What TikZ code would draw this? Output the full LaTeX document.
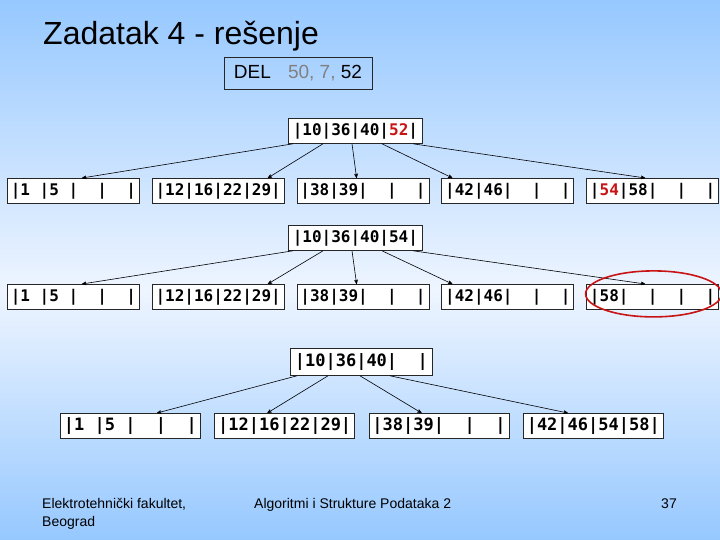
\documentclass[tikz,border=0pt]{standalone}
\usepackage{fontspec}
\setmainfont{Liberation Sans}
\setmonofont{DejaVu Sans Mono}
\usepackage{tikz}
\usetikzlibrary{arrows,positioning}
\definecolor{nebo}{RGB}{150,200,255}
\definecolor{svetlo}{RGB}{238,245,255}
\definecolor{crvena}{RGB}{200,20,20}
\newcommand{\crv}[1]{\textcolor{crvena}{#1}}
\tikzset{
    %Define standard arrow tip
    >=stealth',
    %Define style for key boxes
    cvor/.style={
           rectangle,
           draw=black!85, line width=0.8pt,
           fill=white,
           inner sep=0pt,
           minimum width=132pt,
           minimum height=25pt,
           font=\fontsize{16}{16}\selectfont\ttfamily\bfseries,
           text centered},
    cvordole/.style={
           cvor,
           minimum width=140pt,
           font=\fontsize{17}{17}\selectfont\ttfamily\bfseries},
    % Define arrow style
    strelica/.style={
           ->,
           line width=0.6pt}
}
\begin{document}
\begin{tikzpicture}[x=1pt,y=-1pt]
% background
\shade[top color=nebo, bottom color=svetlo] (0,0) rectangle (720,290);
\shade[top color=svetlo, bottom color=nebo] (0,289.5) rectangle (720,540);
\useasboundingbox (0,0) rectangle (720,540);

% title
\node[anchor=base west, inner sep=0pt, font=\fontsize{32}{32}\selectfont] (naslov) at (43,45) {Zadatak 4 - rešenje};
\node[draw=black!85, line width=0.8pt, minimum width=148pt, minimum height=32pt, inner sep=0pt,
      font=\fontsize{19}{19}\selectfont] (del) at (298,73)
      {DEL\hspace{0.9em}\textcolor{gray}{50, 7,} 52};

% step 1
\node[cvor, minimum width=134pt, anchor=north west] (r1) at (288,118) {|10|36|40|\crv{52}|};
\node[cvor, anchor=north west] (a1) at (7,178) {|1~|5~|~~|~~|};
\node[cvor, right=12pt of a1] (b1) {|12|16|22|29|};
\node[cvor, right=12pt of b1] (c1) {|38|39|~~|~~|};
\node[cvor, right=12pt of c1] (d1) {|42|46|~~|~~|};
\node[cvor, right=12pt of d1] (e1) {|\crv{54}|58|~~|~~|};

\draw[strelica] ([xshift=5pt]r1.south west) -- ([xshift=75pt]a1.north west);
\draw[strelica] ([xshift=35pt]r1.south west) -- ([xshift=116pt]b1.north west);
\draw[strelica] ([xshift=64pt]r1.south west) -- ([xshift=60pt]c1.north west);
\draw[strelica] ([xshift=94pt]r1.south west) -- ([xshift=11pt]d1.north west);
\draw[strelica] ([xshift=125pt]r1.south west) -- ([xshift=59pt]e1.north west);

% step 2
\node[cvor, minimum width=134pt, anchor=north west] (r2) at (288,225) {|10|36|40|54|};
\node[cvor, anchor=north west] (a2) at (7,284) {|1~|5~|~~|~~|};
\node[cvor, right=12pt of a2] (b2) {|12|16|22|29|};
\node[cvor, right=12pt of b2] (c2) {|38|39|~~|~~|};
\node[cvor, right=12pt of c2] (d2) {|42|46|~~|~~|};
\node[cvor, right=12pt of d2] (e2) {|58|~~|~~|~~|};

\draw[strelica] ([xshift=5pt]r2.south west) -- ([xshift=75pt]a2.north west);
\draw[strelica] ([xshift=35pt]r2.south west) -- ([xshift=116pt]b2.north west);
\draw[strelica] ([xshift=64pt]r2.south west) -- ([xshift=60pt]c2.north west);
\draw[strelica] ([xshift=94pt]r2.south west) -- ([xshift=11pt]d2.north west);
\draw[strelica] ([xshift=125pt]r2.south west) -- ([xshift=59pt]e2.north west);

\draw[crvena, line width=1.6pt] (e2.center) ++(1,-3) ellipse (68pt and 23pt);

% step 3
\node[cvordole, minimum width=142pt, minimum height=27pt, anchor=north west] (r3) at (290,348) {|10|36|40|~~|};
\node[cvordole, anchor=north west] (a3) at (60,413) {|1~|5~|~~|~~|};
\node[cvordole, right=13.5pt of a3] (b3) {|12|16|22|29|};
\node[cvordole, right=13.5pt of b3] (c3) {|38|39|~~|~~|};
\node[cvordole, right=13.5pt of c3] (d3) {|42|46|54|58|};

\draw[strelica] ([xshift=7pt]r3.south west) -- ([xshift=97pt]a3.north west);
\draw[strelica] ([xshift=38pt]r3.south west) -- ([xshift=53pt]b3.north west);
\draw[strelica] ([xshift=70pt]r3.south west) -- ([xshift=53pt]c3.north west);
\draw[strelica] ([xshift=100pt]r3.south west) -- ([xshift=45pt]d3.north west);

% footer
\node[anchor=base west, inner sep=0pt, align=left, font=\fontsize{14}{18}\selectfont] (fakultet) at (42,526)
      {Elektrotehnički fakultet,\\Beograd};
\node[anchor=base west, inner sep=0pt, font=\fontsize{14}{18}\selectfont] (predmet) at (254,508)
      {Algoritmi i Strukture Podataka 2};
\node[anchor=base east, inner sep=0pt, font=\fontsize{14}{18}\selectfont] (strana) at (677,508) {37};
\end{tikzpicture}
\end{document}
